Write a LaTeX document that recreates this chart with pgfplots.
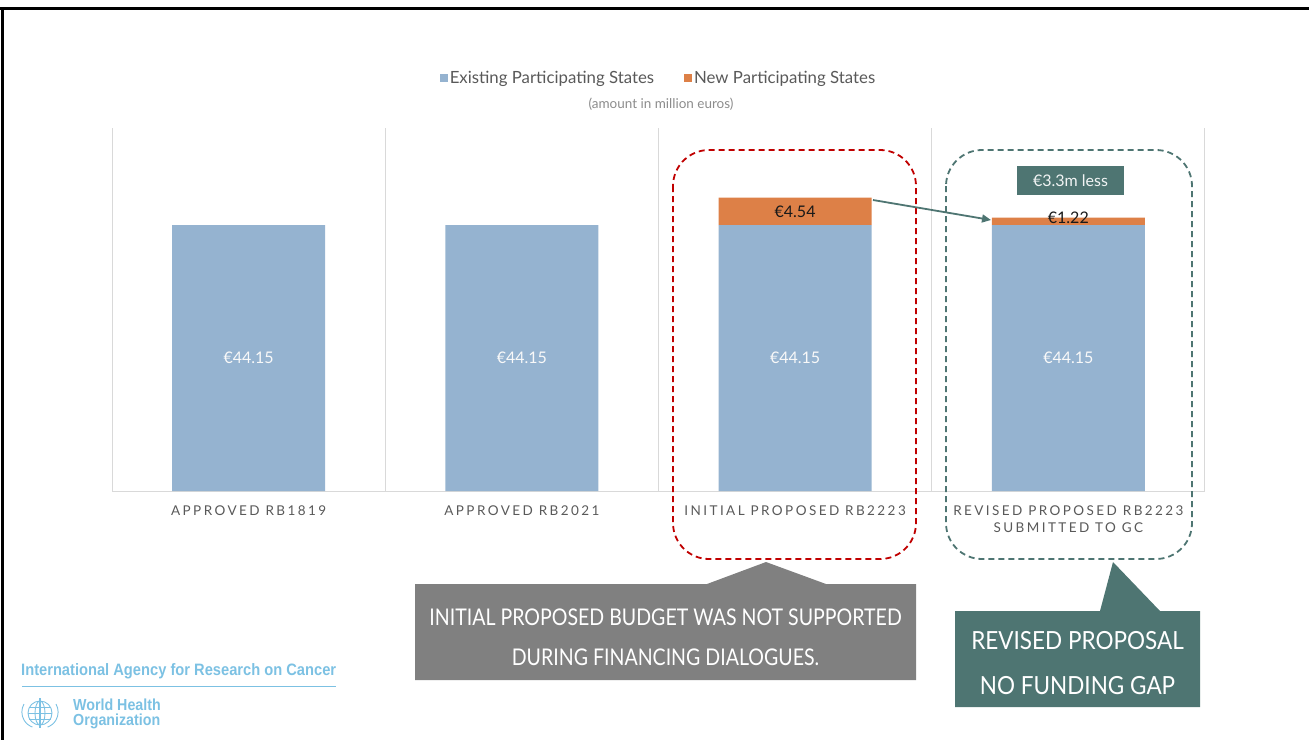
\documentclass[border=0pt]{standalone}
\usepackage{fontspec}
\setmainfont{Lato}
\newfontfamily\condfont[FakeStretch=0.85]{Lato}
\newfontfamily\condfontb[FakeStretch=0.9]{Lato}
\newfontfamily\logofont[FakeStretch=0.89]{Liberation Sans}
\newfontfamily\catfont[LetterSpace=18]{Lato}
\usepackage{pgfplots}
\pgfplotsset{compat=1.18}
\usetikzlibrary{arrows.meta}
\definecolor{barblue}{HTML}{95B3D0}
\definecolor{barorange}{HTML}{DD8047}
\definecolor{teal2}{HTML}{4E7572}
\definecolor{darkred}{HTML}{C00000}
\definecolor{txtgray}{HTML}{595959}
\definecolor{gridgray}{HTML}{D9D9D9}
\definecolor{boxgray}{HTML}{808080}
\definecolor{logoblue}{HTML}{7CC1E3}
\pgfplotstableread{
x existing new
0 44.15 0
1 44.15 0
2 44.15 4.54
3 44.15 1.22
}\budget
\begin{document}
\begin{tikzpicture}[x=1pt,y=1pt]
\useasboundingbox (0,0) rectangle (1309,-740);
% slide frame
\draw[line width=3pt] (0,-8) -- (1309,-8);
\draw[line width=3pt] (2,-8) -- (2,-740);
\begin{axis}[
  at={(112pt,-491pt)}, anchor=south west,
  scale only axis, width=1093pt, height=363pt,
  ybar stacked, bar width=153pt,
  xmin=-0.5, xmax=3.5, ymin=0, ymax=60.25,
  axis x line*=bottom, axis y line=none,
  x axis line style={draw=gridgray, line width=1pt, -},
  xtick={0,1,2,3},
  xticklabels={APPROVED RB1819, APPROVED RB2021, INITIAL PROPOSED RB2223, {REVISED PROPOSED RB2223\\SUBMITTED TO GC}},
  xticklabel style={align=center, font=\catfont\fontsize{13.5}{17}\selectfont, text=txtgray, yshift=-11pt},
  major tick length=0pt,
  minor xtick={-0.5,0.5,1.5,2.5,3.5},
  minor tick length=0pt,
  xminorgrids, minor grid style={draw=gridgray, line width=1pt},
  legend columns=2,
  legend style={at={(0.5,1)}, anchor=center, yshift=50pt, draw=none, fill=none,
    font=\fontsize{16.8}{19}\selectfont, text=txtgray,
    /tikz/every even column/.append style={column sep=28pt}},
  legend image code/.code={\fill[#1,draw=none] (0pt,-4pt) rectangle (8pt,4pt);},
  clip=false,
]
\addplot[fill=barblue, draw=none] table[x=x,y=existing] {\budget};
\addlegendentry{Existing Participating States}
\addplot[fill=barorange, draw=none] table[x=x,y=new] {\budget};
\addlegendentry{New Participating States}
\coordinate (l0) at (axis cs:0,22.075);
\coordinate (l1) at (axis cs:1,22.075);
\coordinate (l2) at (axis cs:2,22.075);
\coordinate (l3) at (axis cs:3,22.075);
\coordinate (o2) at (axis cs:2,46.42);
\coordinate (o3) at (axis cs:3,45.37);
\end{axis}
\foreach \c in {l0,l1,l2,l3}
  \node[text=white!95!gray, font=\fontsize{16}{18}\selectfont] at (\c) {€44.15};
\node[text=black!90, font=\fontsize{16}{18}\selectfont] at (o2) {€4.54};
\node[text=black!90, font=\fontsize{16}{18}\selectfont] at (o3) {€1.22};
% subtitle
\node[text=black!45, font=\fontsize{13.5}{15}\selectfont] at (661,-104) {(amount in million euros)};
% dashed groups
\draw[darkred, line width=1.8pt, dash pattern=on 6pt off 4pt, rounded corners=36pt] (673,-150) rectangle (916,-559);
\draw[teal2, line width=1.8pt, dash pattern=on 6pt off 4pt, rounded corners=36pt] (946,-150) rectangle (1192,-559);
% 3.3m less box
\node[fill=teal2, text=white!92!teal2, minimum width=107pt, minimum height=29pt, inner sep=0pt, font=\fontsize{16}{18}\selectfont] at (1070.5,-180.5) {€3.3m less};
% arrow
\draw[teal2, line width=1.8pt, -{Triangle[length=9pt,width=8pt]}] (873,-200) -- (991,-220);
% gray callout
\fill[boxgray] (415,-584) -- (707,-584) -- (766,-562) -- (826,-584) -- (916,-584) -- (916,-680) -- (415,-680) -- cycle;
\node[text=white, font=\condfont\fontsize{23}{40}\selectfont, align=center] at (665.5,-637) {INITIAL PROPOSED BUDGET WAS NOT SUPPORTED\\DURING FINANCING DIALOGUES.};
% teal callout
\fill[teal2] (955,-611) -- (1100,-611) -- (1113,-562) -- (1160,-611) -- (1200,-611) -- (1200,-707) -- (955,-707) -- cycle;
\node[text=white, font=\condfontb\fontsize{25}{45}\selectfont, align=center] at (1077.5,-663) {REVISED PROPOSAL\\NO FUNDING GAP};
% logo
\node[anchor=west, inner sep=0pt, text=logoblue, font=\logofont\bfseries\fontsize{16.5}{18}\selectfont] at (21,-671) {International Agency for Research on Cancer};
\draw[logoblue, line width=0.8pt] (22,-686) -- (336,-686);
\begin{scope}[logoblue, line width=0.9pt]
\draw (40,-713) circle (12pt);
\draw (40,-713) ellipse (5pt and 12pt);
\draw (28,-713) -- (52,-713);
\draw (29,-707) -- (51,-707);
\draw (29,-719) -- (51,-719);
\draw (24,-704) arc (150:250:16pt);
\draw (56,-704) arc (30:-70:16pt);
\draw[line width=1.4pt] (40,-698) -- (40,-728);
\end{scope}
\node[anchor=west, inner sep=0pt, text=logoblue, font=\logofont\bfseries\fontsize{16}{14.5}\selectfont, align=left] at (73,-714) {World Health\\Organization};
\end{tikzpicture}
\end{document}
